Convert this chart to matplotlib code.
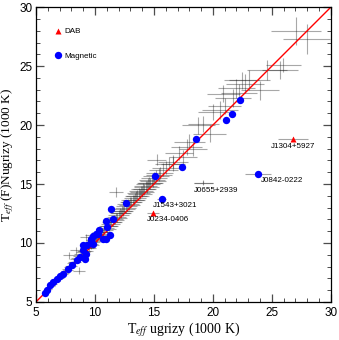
import numpy as np
import matplotlib
matplotlib.use("Agg")
import matplotlib.pyplot as plt
from matplotlib.ticker import MultipleLocator

plt.rcParams['font.family'] = ['Liberation Sans', 'DejaVu Sans']
plt.rcParams['mathtext.fontset'] = 'stix'

# gray objects: ugrizy Teff, (F)Nugrizy Teff, errors (1000 K)
gray_x = [5.9, 6.1, 6.3, 6.5, 6.7, 6.9, 7.1, 7.3, 7.5, 7.6, 7.8, 7.9, 8.1, 8.2,
          8.4, 8.5, 8.7, 8.8, 9.0, 9.1, 9.3, 9.4, 9.6, 9.8, 9.9, 10.1, 10.3, 10.4,
          10.6, 10.8, 10.9, 11.1, 11.3, 11.4, 11.6, 11.8, 12.0, 12.1, 12.3, 12.5,
          12.7, 12.8, 13.0, 13.2, 13.4, 13.5, 13.7, 13.9, 14.1, 14.3, 14.5, 14.6,
          14.8, 15.0, 15.2, 15.5, 15.8, 16.0, 16.3, 16.6, 16.64, 17.48, 17.77,
          18.33, 18.75, 19.18, 19.75, 20.03, 20.6, 20.87, 21.72, 22.0, 22.43,
          22.7, 23.1, 23.98, 24.55, 25.68, 25.96, 27.03, 27.94,
          7.82, 8.62, 8.39, 9.24, 9.75, 11.78, 15.23, 19.18,
          6.6, 7.0, 7.4, 7.7, 8.0, 8.3, 8.6, 8.9, 9.2, 9.5, 9.7, 10.0, 10.2, 10.5,
          10.7, 11.0, 11.2, 11.5, 11.7, 11.9, 12.2, 12.4, 12.6, 12.9, 13.1, 13.3,
          13.6, 13.8, 14.0, 14.2, 14.4, 14.7, 14.9, 15.4, 17.1, 18.0, 21.0, 22.2]
gray_y = [5.9, 6.1, 6.35, 6.55, 6.75, 7.0, 7.2, 7.4, 7.6, 7.75, 7.95, 8.05, 8.3, 8.4,
          8.6, 8.75, 8.9, 9.05, 9.25, 9.35, 9.6, 9.7, 9.9, 10.1, 10.25, 10.4, 10.6,
          10.75, 10.95, 11.1, 11.25, 11.45, 11.65, 11.8, 12.0, 12.2, 12.4, 12.55,
          12.75, 12.9, 13.15, 13.3, 13.5, 13.65, 13.85, 14.0, 14.2, 14.4, 14.6,
          14.8, 15.0, 15.1, 15.3, 15.5, 15.7, 15.95, 16.2, 16.4, 16.7, 16.9, 16.73,
          17.29, 18.14, 18.0, 19.97, 20.1, 19.27, 21.1, 21.25, 22.66, 22.29, 23.1,
          23.79, 23.5, 23.8, 22.94, 24.64, 24.64, 25.06, 28.0, 27.3,
          8.96, 7.63, 9.38, 10.5, 10.65, 14.32, 17.07, 15.12,
          6.65, 7.0, 7.45, 7.7, 8.05, 8.35, 8.65, 8.95, 9.3, 9.6, 9.8, 10.15, 10.35,
          10.7, 10.9, 11.2, 11.4, 11.75, 11.95, 12.15, 12.5, 12.7, 12.95, 13.25,
          13.45, 13.65, 14.0, 14.15, 14.35, 14.55, 14.75, 15.05, 15.25, 15.8, 17.6,
          18.6, 21.6, 22.7]
gray_xerr = [0.25, 0.25, 0.3, 0.3, 0.3, 0.35, 0.35, 0.4, 0.4, 0.4, 0.45, 0.45, 0.5,
             0.5, 0.5, 0.5, 0.55, 0.55, 0.6, 0.6, 0.6, 0.6, 0.65, 0.65, 0.65, 0.7,
             0.7, 0.7, 0.7, 0.75, 0.75, 0.75, 0.8, 0.8, 0.8, 0.8, 0.85, 0.85, 0.85,
             0.9, 0.9, 0.9, 0.9, 0.95, 0.95, 0.95, 1.0, 1.0, 1.0, 1.0, 1.05, 1.05,
             1.1, 1.1, 1.1, 1.15, 1.2, 1.2, 1.2, 1.25, 1.0, 1.2, 1.3, 1.2, 1.4, 1.3,
             1.4, 1.3, 1.5, 1.4, 1.5, 1.6, 1.5, 1.6, 1.7, 1.6, 1.7, 1.5, 1.5, 2.1, 2.0,
             0.5, 0.5, 0.5, 0.5, 0.6, 0.6, 0.8, 0.8,
             0.3, 0.35, 0.4, 0.4, 0.45, 0.5, 0.5, 0.55, 0.6, 0.6, 0.65, 0.65, 0.7,
             0.7, 0.7, 0.75, 0.75, 0.8, 0.8, 0.8, 0.85, 0.85, 0.9, 0.9, 0.9, 0.95,
             0.95, 1.0, 1.0, 1.0, 1.05, 1.05, 1.1, 1.1, 1.2, 1.3, 1.4, 1.5]
gray_yerr = [0.1, 0.1, 0.1, 0.12, 0.12, 0.12, 0.15, 0.15, 0.15, 0.15, 0.18, 0.18,
             0.2, 0.2, 0.2, 0.2, 0.22, 0.22, 0.25, 0.25, 0.25, 0.25, 0.28, 0.28,
             0.28, 0.3, 0.3, 0.3, 0.3, 0.32, 0.32, 0.32, 0.35, 0.35, 0.35, 0.35,
             0.38, 0.38, 0.38, 0.4, 0.4, 0.4, 0.4, 0.42, 0.42, 0.42, 0.45, 0.45,
             0.45, 0.45, 0.48, 0.48, 0.5, 0.5, 0.5, 0.52, 0.55, 0.55, 0.55, 0.58,
             0.6, 0.6, 0.65, 0.6, 0.7, 0.65, 0.7, 0.65, 0.75, 0.7, 0.75, 0.8, 0.75,
             0.8, 0.85, 0.8, 0.85, 0.75, 0.6, 1.2, 1.3,
             0.3, 0.3, 0.3, 0.3, 0.3, 0.4, 0.5, 0.2,
             0.12, 0.15, 0.15, 0.18, 0.2, 0.2, 0.22, 0.25, 0.25, 0.28, 0.28, 0.3,
             0.3, 0.3, 0.32, 0.32, 0.35, 0.35, 0.35, 0.38, 0.38, 0.4, 0.4, 0.42,
             0.42, 0.45, 0.45, 0.45, 0.48, 0.48, 0.5, 0.5, 0.5, 0.55, 0.6, 0.65,
             0.7, 0.75]

# magnetic white dwarfs
mag_x = [5.76, 5.9, 6.19, 6.47, 6.75, 7.03, 7.31, 7.74, 8.03, 8.45, 8.73, 9.15,
         9.24, 9.0, 8.96, 9.35, 9.7, 9.63, 9.86, 10.28, 10.08, 9.8, 10.7, 10.93,
         11.27, 11.04, 10.36, 10.93, 11.55, 11.33, 12.6, 15.11, 17.35, 18.6,
         21.1, 21.64, 22.29]
mag_y = [5.76, 6.05, 6.42, 6.69, 6.98, 7.18, 7.4, 7.83, 8.11, 8.53, 8.81, 8.68,
         9.04, 9.38, 9.8, 9.8, 10.23, 10.37, 10.57, 10.74, 10.8, 9.95, 10.37,
         10.37, 10.65, 11.36, 11.08, 11.86, 12.03, 12.9, 13.39, 15.65, 16.44,
         18.85, 20.4, 20.9, 22.1]

# labelled outliers
out_names = ['J1304+5927', 'J0842-0222', 'J0655+2939', 'J1543+3021', 'J0234-0406']
out_type = ['DAB', 'Magnetic', 'other', 'Magnetic', 'DAB']
out_x = [26.8, 23.84, 19.18, 15.65, 14.89]
out_y = [18.85, 15.88, 15.12, 13.7, 12.54]
out_xerr = [1.3, 1.1, 0.8, 0.4, 0.5]
out_yerr = [0.15, 0.15, 0.15, 0.15, 0.15]
label_offset = [(0, -8), (3, -6.5), (-9, -8), (-9, -6), (-6, -6.5)]
label_ha = ['center', 'left', 'left', 'left', 'left']

fig = plt.figure(figsize=(3.39, 3.40), dpi=100)
ax = fig.add_axes([0.106, 0.112, 0.870, 0.867])

ax.errorbar(gray_x, gray_y, xerr=gray_xerr, yerr=gray_yerr, fmt='none',
            ecolor='0.1', alpha=0.38, elinewidth=0.8, capsize=0)
ax.errorbar(out_x, out_y, xerr=out_xerr, yerr=out_yerr, fmt='none',
            ecolor='0.3', alpha=0.5, elinewidth=0.8, capsize=0)

ax.plot([5, 30], [5, 30], color='red', lw=1.0)

ax.plot(mag_x, mag_y, 'o', color='blue', ms=5.3, mec='none', label='Magnetic')
ox = np.array(out_x)
oy = np.array(out_y)
ot = np.array(out_type)
ax.plot(ox[ot == 'Magnetic'], oy[ot == 'Magnetic'], 'o', color='blue', ms=5.3, mec='none')
ax.plot(ox[ot == 'DAB'], oy[ot == 'DAB'], '^', color='red', ms=4, mec='none', label='DAB')

for name, x, y, off, ha in zip(out_names, out_x, out_y, label_offset, label_ha):
    ax.annotate(name, (x, y), xytext=off, textcoords='offset pixels',
                ha=ha, va='center', fontsize=5.8)

handles, labels = ax.get_legend_handles_labels()
ax.legend(handles[::-1], labels[::-1], loc='upper left', bbox_to_anchor=(0.065, 0.93),
          frameon=False, fontsize=5.8, labelspacing=2.1, handlelength=0.8,
          handletextpad=0.3, borderpad=0, borderaxespad=0)

ax.set_xlim(5, 30)
ax.set_ylim(5, 30)
ax.xaxis.set_major_locator(MultipleLocator(5))
ax.yaxis.set_major_locator(MultipleLocator(5))
ax.xaxis.set_minor_locator(MultipleLocator(1))
ax.yaxis.set_minor_locator(MultipleLocator(1))
ax.tick_params(which='both', direction='in', top=True, right=True, labelsize=8.5,
               color='0.3')
ax.tick_params(axis='y', pad=2.5)
ax.tick_params(which='major', length=5.5, width=0.9)
ax.tick_params(which='minor', length=3, width=0.7)
for s in ax.spines.values():
    s.set_linewidth(0.9)

ax.set_xlabel(r'T$_{eff}$ ugrizy (1000 K)', fontfamily='Liberation Serif',
              fontsize=10, labelpad=1)
ax.set_ylabel(r'T$_{eff}$ (F)Nugrizy (1000 K)', fontfamily='Liberation Serif',
              fontsize=9.5)
ax.yaxis.set_label_coords(-0.066, 0.5)

fig.savefig('out.png', dpi=100)
